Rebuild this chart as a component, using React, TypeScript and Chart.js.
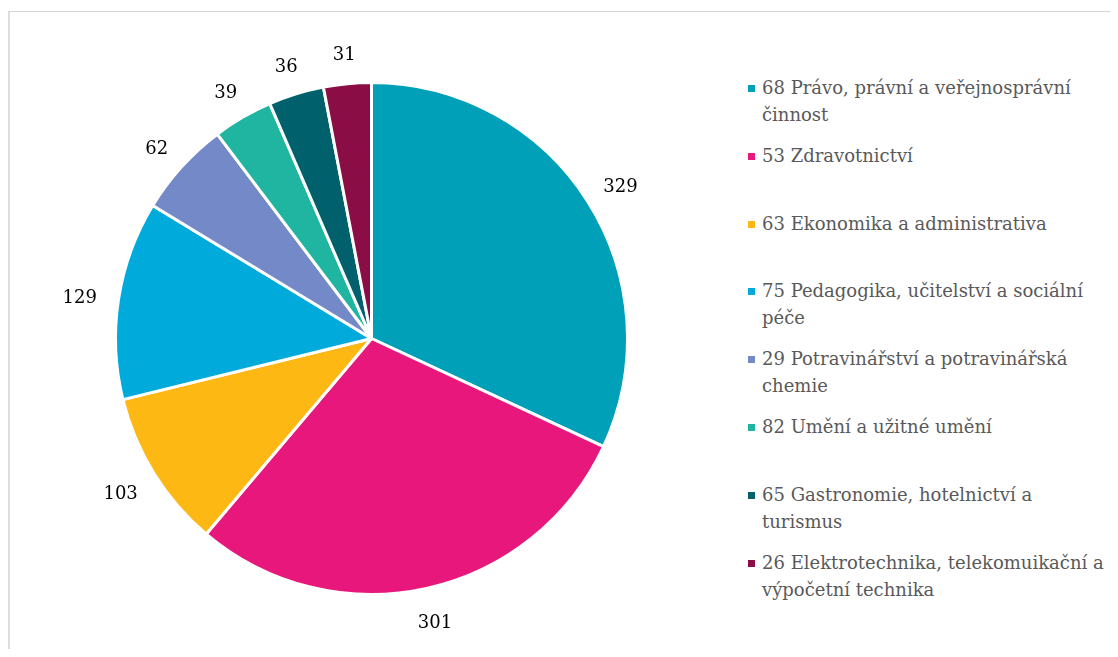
import React, { useEffect, useRef } from "react";
import { Chart, registerables } from "chart.js";

Chart.register(...registerables);

const categories = [
  "68 Právo, právní a veřejnosprávní činnost",
  "53 Zdravotnictví",
  "63 Ekonomika a administrativa",
  "75 Pedagogika, učitelství a sociální péče",
  "29 Potravinářství a potravinářská chemie",
  "82 Umění a užitné umění",
  "65 Gastronomie, hotelnictví a turismus",
  "26 Elektrotechnika, telekomuikační a výpočetní technika",
];

const legendLines = [
  ["68 Právo, právní a veřejnosprávní", "činnost"],
  ["53 Zdravotnictví"],
  ["63 Ekonomika a administrativa"],
  ["75 Pedagogika, učitelství a sociální", "péče"],
  ["29 Potravinářství a potravinářská", "chemie"],
  ["82 Umění a užitné umění"],
  ["65 Gastronomie, hotelnictví a", "turismus"],
  ["26 Elektrotechnika, telekomuikační a", "výpočetní technika"],
];

const values = [329, 301, 103, 129, 62, 39, 36, 31];

const colors = [
  "#00A0B8",
  "#E8177B",
  "#FDB813",
  "#00ABDB",
  "#7489C7",
  "#1FB5A0",
  "#00616D",
  "#8A0D46",
];

const labelFont = "18px 'DejaVu Serif', 'Liberation Serif', serif";

const outLabels = {
  id: "outLabels",
  afterDatasetsDraw(chart: any) {
    const ctx = chart.ctx;
    const meta = chart.getDatasetMeta(0);
    ctx.save();
    ctx.font = labelFont;
    ctx.fillStyle = "#000000";
    ctx.textAlign = "center";
    ctx.textBaseline = "middle";
    meta.data.forEach((arc: any, i: number) => {
      const p = arc.getProps(["x", "y", "startAngle", "endAngle", "outerRadius"], true);
      const mid = (p.startAngle + p.endAngle) / 2;
      const dx = Math.cos(mid);
      const dy = Math.sin(mid);
      const text = String(values[i]);
      const w = ctx.measureText(text).width;
      const h = 20;
      const r = p.outerRadius + 22;
      const cx = p.x + dx * r + (dx * w) / 2;
      const cy = p.y + dy * r + (dy * h) / 2 + 4;
      ctx.fillText(text, cx, cy);
    });
    ctx.restore();
  },
};

export default function App() {
  const canvasRef = useRef<HTMLCanvasElement | null>(null);

  useEffect(() => {
    if (!canvasRef.current) return;
    const chart = new Chart(canvasRef.current, {
      type: "pie",
      data: {
        labels: categories,
        datasets: [
          {
            data: values,
            backgroundColor: colors,
            borderColor: "#ffffff",
            borderWidth: 3,
          },
        ],
      },
      options: {
        animation: false,
        responsive: true,
        maintainAspectRatio: false,
        layout: {
          padding: { left: 106, right: 109, top: 73, bottom: 53 },
        },
        plugins: {
          legend: { display: false },
          tooltip: { enabled: false },
        },
      },
      plugins: [outLabels],
    });
    return () => chart.destroy();
  }, []);

  const slot = 67.8;
  const legendTop = 66;

  return (
    <div
      style={{
        position: "relative",
        width: 1110,
        height: 641,
        overflow: "hidden",
        background: "#ffffff",
      }}
    >
      <div
        style={{
          position: "absolute",
          left: 0,
          top: 3,
          width: 1300,
          height: 900,
          borderTop: "1px solid #d4d4d4",
          borderLeft: "2px solid #dddddd",
          boxSizing: "border-box",
        }}
      />
      <div style={{ position: "absolute", left: 0, top: 0, width: 730, height: 641 }}>
        <canvas ref={canvasRef} />
      </div>
      {legendLines.map((lines, i) => (
        <div
          key={i}
          style={{
            position: "absolute",
            left: 740,
            top: legendTop + i * slot,
            fontFamily: "'DejaVu Serif', 'Liberation Serif', serif",
            fontSize: 18,
            lineHeight: "27px",
            color: "#595959",
            whiteSpace: "nowrap",
          }}
        >
          <div
            style={{
              position: "absolute",
              left: 0,
              top: 11,
              width: 7,
              height: 7,
              background: colors[i],
            }}
          />
          <div style={{ marginLeft: 14 }}>
            {lines.map((l, j) => (
              <div key={j}>{l}</div>
            ))}
          </div>
        </div>
      ))}
    </div>
  );
}
